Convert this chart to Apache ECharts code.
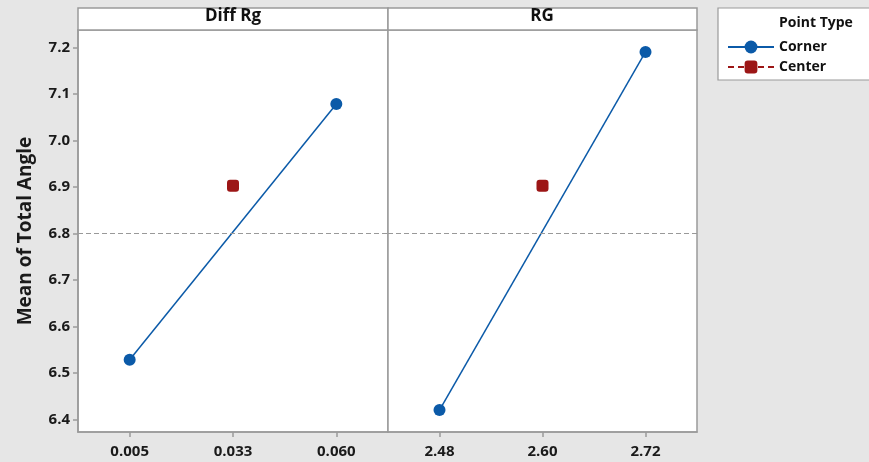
<!DOCTYPE html>
<html><head><meta charset="utf-8">
<script src="https://cdn.jsdelivr.net/npm/echarts@6/dist/echarts.min.js"></script>
<style>html,body{margin:0;padding:0;background:#e6e6e6}#c{width:869px;height:462px}</style>
</head><body><div id="c"></div>
<script>
// ---- data ----
const factors = ['Diff Rg', 'RG'];
const diffRgLevels = ['0.005', '0.033', '0.060'];
const rgLevels = ['2.48', '2.60', '2.72'];
const diffRgCorner = [6.528, null, 7.078];
const diffRgCenter = [null, 6.902, null];
const rgCorner = [6.420, null, 7.190];
const rgCenter = [null, 6.902, null];
const grandMean = 6.805;
const yTickValues = [6.4, 6.5, 6.6, 6.7, 6.8, 6.9, 7.0, 7.1, 7.2];
const legendTitle = 'Point Type';
const legendNames = ['Corner', 'Center'];

// ---- style ----
const FONT = '"Open Sans", "Noto Sans", sans-serif';
const BLUE = '#0b5aa8';
const RED = '#9c1616';
const FRAME = '#9a9a9a';
const yMin = 6.3727, yMax = 7.2372;

const chart = echarts.init(document.getElementById('c'));

function xAxis(i, levels) {
  return {
    type: 'category', gridIndex: i, data: levels, boundaryGap: true,
    axisLine: { show: true, lineStyle: { color: FRAME, width: 1.5 } },
    axisTick: { show: true, alignWithLabel: true, length: 5, lineStyle: { color: FRAME, width: 1.5 } },
    axisLabel: { color: '#1a1a1a', fontFamily: FONT, fontSize: 15, fontWeight: 'bold', margin: 12 },
    splitLine: { show: false }
  };
}
function yAxis(i, showLabels) {
  return {
    type: 'value', gridIndex: i, min: yMin, max: yMax,
    name: showLabels ? 'Mean of Total Angle' : '',
    nameLocation: 'middle', nameGap: 43,
    nameTextStyle: { color: '#1a1a1a', fontFamily: FONT, fontSize: 19, fontWeight: 'bold' },
    axisLine: { show: showLabels, lineStyle: { color: FRAME, width: 1.5 } },
    axisTick: { show: showLabels, length: 5, customValues: yTickValues, lineStyle: { color: FRAME, width: 1.5 } },
    axisLabel: { show: showLabels, customValues: yTickValues, formatter: v => v.toFixed(1),
      color: '#1a1a1a', fontFamily: FONT, fontSize: 15, fontWeight: 'bold', margin: 8 },
    splitLine: { show: false }
  };
}
function meanLine() {
  return {
    silent: true, symbol: 'none', label: { show: false },
    lineStyle: { type: [5, 3], color: '#999999', width: 1.2 },
    data: [{ yAxis: grandMean }]
  };
}
function cornerSeries(i, data) {
  return {
    name: legendNames[0], type: 'line', xAxisIndex: i, yAxisIndex: i, data: data,
    connectNulls: true, symbol: 'circle', symbolSize: 12, z: 3,
    lineStyle: { color: BLUE, width: 1.5 }, itemStyle: { color: BLUE },
    markLine: meanLine()
  };
}
function centerSeries(i, data) {
  return {
    name: legendNames[1], type: 'line', xAxisIndex: i, yAxisIndex: i, data: data,
    symbol: 'roundRect', symbolSize: 12, z: 4,
    lineStyle: { color: RED, width: 1.5, type: [6, 4] }, itemStyle: { color: RED }
  };
}

const headerStyle = { fill: '#fff', stroke: FRAME, lineWidth: 1.5 };

chart.setOption({
  backgroundColor: '#e6e6e6',
  animation: false,
  grid: [
    { left: 78, top: 30, width: 310, height: 402, show: true, backgroundColor: '#fff', borderColor: FRAME, borderWidth: 1.5 },
    { left: 388, top: 30, width: 309, height: 402, show: true, backgroundColor: '#fff', borderColor: FRAME, borderWidth: 1.5 }
  ],
  xAxis: [xAxis(0, diffRgLevels), xAxis(1, rgLevels)],
  yAxis: [yAxis(0, true), yAxis(1, false)],
  legend: {
    orient: 'vertical', left: 722, top: 35, itemWidth: 46, itemHeight: 16, itemGap: 6,
    data: legendNames,
    textStyle: { color: '#111', fontFamily: FONT, fontSize: 14, fontWeight: 'bold' }
  },
  graphic: [
    { type: 'rect', shape: { x: 78, y: 8, width: 310, height: 22 }, style: headerStyle, z: 5 },
    { type: 'rect', shape: { x: 388, y: 8, width: 309, height: 22 }, style: headerStyle, z: 5 },
    { type: 'text', x: 233, y: 8, z: 10, style: { text: factors[0], fill: '#111', font: 'bold 17px ' + FONT, textAlign: 'center' } },
    { type: 'text', x: 542, y: 8, z: 10, style: { text: factors[1], fill: '#111', font: 'bold 17px ' + FONT, textAlign: 'center' } },
    { type: 'rect', shape: { x: 718, y: 8, width: 160, height: 72 }, style: { fill: '#fff', stroke: FRAME, lineWidth: 1.2 }, z: -1 },
    { type: 'text', x: 779, y: 16, z: 10, style: { text: legendTitle, fill: '#111', font: 'bold 14px ' + FONT } }
  ],
  series: [
    cornerSeries(0, diffRgCorner), centerSeries(0, diffRgCenter),
    cornerSeries(1, rgCorner), centerSeries(1, rgCenter)
  ]
});
</script></body></html>
